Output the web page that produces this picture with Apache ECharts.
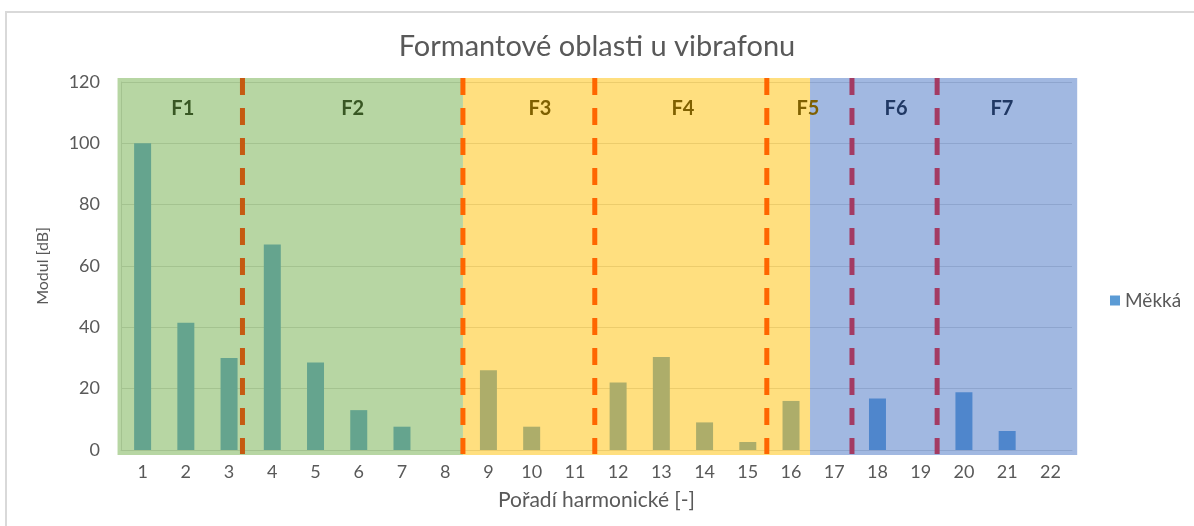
<!DOCTYPE html>
<html>
<head>
<meta charset="utf-8">
<script src="https://cdn.jsdelivr.net/npm/echarts@6/dist/echarts.min.js"></script>
<style>
  html, body { margin: 0; padding: 0; background: #fff; }
  #chart { width: 1194px; height: 526px; }
</style>
</head>
<body>
<div id="chart"></div>
<script>
// Harmonic numbers and level of each harmonic (dB)
const harmonics = ['1','2','3','4','5','6','7','8','9','10','11','12','13','14','15','16','17','18','19','20','21','22'];
const mekka = [100, 41.5, 30, 67, 28.5, 13, 7.6, 0, 26, 7.6, 0, 22, 30.3, 9, 2.6, 16, 0, 16.8, 0, 18.8, 6.2, 0];
const yTicks = [0, 20, 40, 60, 80, 100, 120];

// Shaded formant bands, in harmonic-axis units (band k spans [start, end])
const bandStart = [-0.08, 7.91, 15.94];
const bandEnd   = [7.91, 15.94, 22.12];
// Dashed separators between formant areas
const dividerPos = [2.81, 7.91, 10.96, 14.94, 16.91, 18.88];
// Formant names and where they are written along the harmonic axis
const formantNames = ['F1', 'F2', 'F3', 'F4', 'F5', 'F6', 'F7'];
const formantPos   = [1.43, 5.36, 9.69, 13.0, 15.89, 17.93, 20.38];
const formantLabelLevel = 111.5;

const FONT = 'Lato, "Open Sans", sans-serif';
const TEXT = '#595959';
const bandFill = ['rgba(112,173,71,0.5)', 'rgba(255,192,0,0.5)', 'rgba(68,114,196,0.5)'];
const dividerColor = ['#c55a11', '#ff6600', '#ff6600', '#ff6600', '#a33b63', '#a33b63'];
const formantColor = ['#385723', '#385723', '#7f6000', '#7f6000', '#7f6000', '#203864', '#203864'];

const chart = echarts.init(document.getElementById('chart'));

chart.setOption({
  backgroundColor: '#ffffff',
  animation: false,
  textStyle: { fontFamily: FONT },
  title: {
    text: 'Formantové oblasti u vibrafonu',
    left: 'center',
    top: 27,
    textStyle: { fontFamily: FONT, fontSize: 29, fontWeight: 'normal', color: TEXT }
  },
  legend: {
    data: ['Měkká'],
    left: 1105,
    top: 286,
    orient: 'vertical',
    icon: 'rect',
    itemWidth: 10,
    itemHeight: 10,
    itemGap: 6,
    textStyle: { fontFamily: FONT, fontSize: 19, color: TEXT }
  },
  graphic: [{
    type: 'rect',
    shape: { x: 6, y: 12, width: 1300, height: 700 },
    style: { fill: 'none', stroke: '#d9d9d9', lineWidth: 2 },
    silent: true
  }],
  grid: { left: 121, right: 122, top: 82, bottom: 76, containLabel: false },
  xAxis: [{
    type: 'category',
    data: harmonics,
    name: 'Pořadí harmonické [-]',
    nameLocation: 'middle',
    nameGap: 40,
    nameTextStyle: { fontFamily: FONT, fontSize: 21, color: TEXT },
    axisLine: { show: true, lineStyle: { color: '#d9d9d9', width: 1 } },
    axisTick: { show: false },
    axisLabel: { fontFamily: FONT, fontSize: 18, color: TEXT, margin: 13 }
  }, {
    type: 'value',
    min: 0,
    max: 22,
    show: false
  }],
  yAxis: {
    type: 'value',
    min: 0,
    max: 120,
    interval: 20,
    name: 'Modul [dB]',
    nameLocation: 'middle',
    nameGap: 70,
    nameMoveOverlap: false,
    nameTextStyle: { fontFamily: FONT, fontSize: 16, color: TEXT },
    axisLine: { show: true, lineStyle: { color: '#d9d9d9', width: 1 } },
    axisTick: { show: false },
    axisLabel: { fontFamily: FONT, fontSize: 18, color: TEXT, margin: 21 },
    splitLine: { show: true, lineStyle: { color: '#d9d9d9', width: 1 } }
  },
  series: [
    {
      name: 'Měkká',
      type: 'bar',
      data: mekka,
      xAxisIndex: 0,
      barWidth: 17,
      itemStyle: { color: '#5b9bd5' },
      z: 2
    },
    {
      // translucent formant bands laid over the bars
      type: 'custom',
      xAxisIndex: 1,
      clip: false,
      silent: true,
      z: 3,
      data: bandStart.map((s, i) => [s, bandEnd[i], 0]),
      encode: { x: [0, 1], y: 2 },
      renderItem: function (params, api) {
        const a = api.coord([api.value(0), 120]);
        const b = api.coord([api.value(1), 0]);
        return {
          type: 'rect',
          shape: { x: a[0], y: a[1] - 4, width: b[0] - a[0], height: b[1] - a[1] + 9 },
          style: { fill: bandFill[params.dataIndex] }
        };
      }
    },
    {
      // dashed separators
      type: 'custom',
      xAxisIndex: 1,
      clip: false,
      silent: true,
      z: 4,
      data: dividerPos.map(p => [p, 0]),
      encode: { x: 0, y: 1 },
      renderItem: function (params, api) {
        const top = api.coord([api.value(0), 120]);
        const bot = api.coord([api.value(0), 0]);
        return {
          type: 'line',
          shape: { x1: top[0], y1: top[1] - 4, x2: bot[0], y2: bot[1] + 4 },
          style: { stroke: dividerColor[params.dataIndex], lineWidth: 5, lineDash: [17, 13] }
        };
      }
    },
    {
      // formant names
      type: 'custom',
      xAxisIndex: 1,
      clip: false,
      silent: true,
      z: 5,
      data: formantPos.map(p => [p, formantLabelLevel]),
      encode: { x: 0, y: 1 },
      renderItem: function (params, api) {
        const p = api.coord([api.value(0), api.value(1)]);
        return {
          type: 'text',
          x: p[0],
          y: p[1],
          style: {
            text: formantNames[params.dataIndex],
            fill: formantColor[params.dataIndex],
            font: 'bold 20px ' + FONT,
            align: 'center',
            verticalAlign: 'middle'
          }
        };
      }
    }
  ]
});
</script>
</body>
</html>
